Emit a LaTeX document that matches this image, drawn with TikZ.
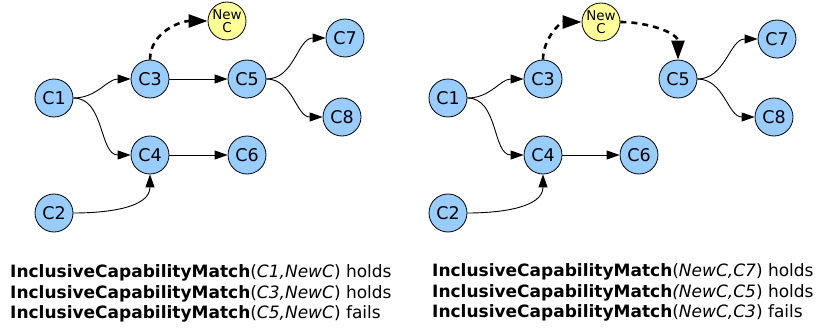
\documentclass[tikz,border=0pt]{standalone}
\usepackage{fontspec}
\setmainfont{DejaVu Sans}
\usetikzlibrary{arrows.meta}
\definecolor{cblue}{RGB}{153,204,255}
\definecolor{cyellow}{RGB}{255,255,153}
\begin{document}
\begin{tikzpicture}[x=1pt,y=-1pt,
  cnode/.style={circle,draw=black,line width=0.8pt,fill=cblue,minimum size=38pt,inner sep=0pt,font=\fontsize{17.5}{17.5}\selectfont},
  newnode/.style={circle,draw=black,line width=0.8pt,fill=cyellow,minimum size=38pt,inner sep=0pt,align=center,font=\fontsize{13.5}{13}\selectfont},
  edge/.style={line width=0.9pt,-{Triangle[length=13pt,width=9pt]}},
  dedge/.style={line width=2.6pt,dash pattern=on 6pt off 5pt,-{Triangle[length=19pt,width=13pt]}},
  lbl/.style={anchor=west,inner sep=0pt,font=\fontsize{17}{17}\selectfont}]
\useasboundingbox (0,0) rectangle (820,329);
% left diagram
\node[cnode] (a1) at (54,98) {C1};
\node[cnode] (a3) at (150,79) {C3};
\node[cnode] (a5) at (247,79) {C5};
\node[cnode] (a7) at (345,38) {C7};
\node[cnode] (a8) at (342,117) {C8};
\node[cnode] (a4) at (150,155) {C4};
\node[cnode] (a6) at (247,155) {C6};
\node[cnode] (a2) at (54,213) {C2};
\node[newnode] (an) at (227,21) {New\\C};
\draw[edge] (a1.east) to[out=0,in=180] (a3.west);
\draw[edge] (a1.east) to[out=0,in=180] (a4.west);
\draw[edge] (a2.east) to[out=0,in=-90] (a4.south);
\draw[edge] (a3) -- (a5);
\draw[edge] (a4) -- (a6);
\draw[edge] (a5.east) to[out=0,in=180] (a7.west);
\draw[edge] (a5.east) to[out=0,in=180] (a8.west);
\draw[dedge] (a3.north) to[out=90,in=180] (an.west);
% right diagram
\node[cnode] (b1) at (448,98) {C1};
\node[cnode] (b3) at (543,79) {C3};
\node[cnode] (b5) at (678,79) {C5};
\node[cnode] (b7) at (777,39) {C7};
\node[cnode] (b8) at (774,117) {C8};
\node[cnode] (b4) at (543,155) {C4};
\node[cnode] (b6) at (639,155) {C6};
\node[cnode] (b2) at (448,213) {C2};
\node[newnode] (bn) at (601,22) {New\\C};
\draw[edge] (b1.east) to[out=0,in=180] (b3.west);
\draw[edge] (b1.east) to[out=0,in=180] (b4.west);
\draw[edge] (b2.east) to[out=0,in=-90] (b4.south);
\draw[edge] (b4) -- (b6);
\draw[edge] (b5.east) to[out=0,in=180] (b7.west);
\draw[edge] (b5.east) to[out=0,in=180] (b8.west);
\draw[dedge] (b3.north) to[out=90,in=180] (bn.west);
\draw[dedge] (bn.east) to[out=0,in=90] (b5.north);
% texts
\node[lbl] (t1) at (10,273) {\textbf{InclusiveCapabilityMatch}(\textit{C1,NewC}) holds};
\node[lbl] (t2) at (10,293.5) {\textbf{InclusiveCapabilityMatch}(\textit{C3,NewC}) holds};
\node[lbl] (t3) at (10,314) {\textbf{InclusiveCapabilityMatch}(\textit{C5,NewC}) fails};
\node[lbl] (t4) at (432,272) {\textbf{InclusiveCapabilityMatch}(\textit{NewC,C7}) holds};
\node[lbl] (t5) at (432,292.5) {\textbf{InclusiveCapabilityMatch}\textit{(NewC,C5}) holds};
\node[lbl] (t6) at (432,313) {\textbf{InclusiveCapabilityMatch}(\textit{NewC,C3}) fails};
\end{tikzpicture}
\end{document}
